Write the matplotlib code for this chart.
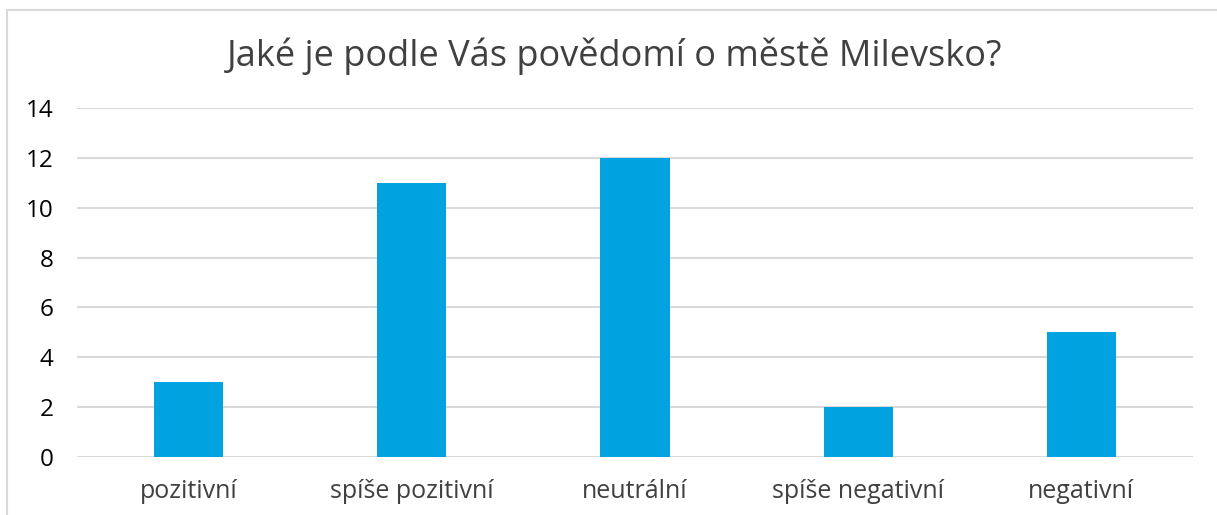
import matplotlib
matplotlib.use("Agg")
import matplotlib.pyplot as plt
from matplotlib.patches import Rectangle

categories = ["pozitivní", "spíše pozitivní", "neutrální", "spíše negativní", "negativní"]
values = [3, 11, 12, 2, 5]
yticks = [0, 2, 4, 6, 8, 10, 12, 14]
title = "Jaké je podle Vás povědomí o městě Milevsko?"

plt.rcParams['font.family'] = ['Open Sans', 'DejaVu Sans']

W, H = 1217, 515
fig = plt.figure(figsize=(W/100, H/100), dpi=100)
fig.patch.set_facecolor("white")
fig.patches.append(Rectangle((7/W, -0.1), 1.2, 1.1 - 10/H + 0.0,
                             transform=fig.transFigure, fill=False,
                             edgecolor="#d9d9d9", linewidth=1.5))

ax = fig.add_axes([77/W, (H-457)/H, (1193-77)/W, (457-108)/H])
x = list(range(len(categories)))
ax.bar(x, values, width=0.31, color="#00a3e0", zorder=3)
ax.set_xlim(-0.5, len(categories) - 0.5)
ax.set_ylim(0, 14)
ax.set_yticks(yticks)
ax.set_yticklabels([str(v) for v in yticks], fontsize=17.5, color="#000000")
ax.set_xticks(x)
ax.set_xticklabels(categories, fontsize=18, color="#404040")
ax.tick_params(length=0, axis="both")
ax.tick_params(axis="y", pad=17)
ax.tick_params(axis="x", pad=16)
ax.grid(axis="y", color="#d9d9d9", linewidth=1.5, zorder=0)
for s in ax.spines.values():
    s.set_visible(False)
fig.text(0.505, 1 - 56/H, title, ha="center", va="center", fontsize=26, color="#404040")

fig.savefig("out.png", dpi=100)
